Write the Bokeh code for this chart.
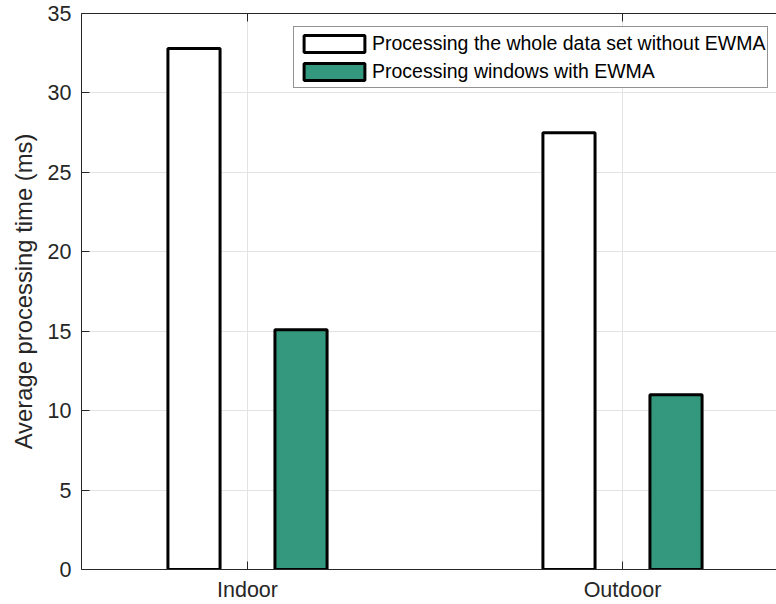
from bokeh.plotting import figure
from bokeh.models import (Range1d, LinearAxis, FixedTicker, ColumnDataSource,
                          Legend, LegendItem, Grid)
from bokeh.embed import file_html
from bokeh.resources import INLINE

# ---- data ----
categories = ["Indoor", "Outdoor"]
series_names = ["Processing the whole data set without EWMA",
                "Processing windows with EWMA"]
whole_dataset = [32.8, 27.5]
windows_ewma = [15.1, 11.0]
y_ticks = [0, 5, 10, 15, 20, 25, 30, 35]

# ---- styling ----
FONT = "Liberation Sans"
AX = "#262626"
GREEN = "#34987e"
positions = [i + 1 for i in range(len(categories))]
offset = 0.1427
bar_w = 0.139

p = figure(width=776, height=604, output_backend="svg", toolbar_location=None,
           x_range=Range1d(0.5573, 2.4107), y_range=Range1d(0, 35),
           min_border_left=81, min_border_right=0, min_border_top=13,
           min_border_bottom=33, x_axis_location=None, y_axis_location=None)
p.outline_line_color = None
p.background_fill_color = "white"
p.border_fill_color = "white"
for g in p.grid:
    g.visible = False

src = ColumnDataSource(dict(
    xw=[x - offset for x in positions],
    xe=[x + offset for x in positions],
    whole=whole_dataset, win=windows_ewma))

# axes
xaxis = LinearAxis(ticker=FixedTicker(ticks=positions),
                   major_label_overrides={pos: c for pos, c in zip(positions, categories)})
xaxis.axis_line_color = AX
xaxis.major_tick_line_color = AX
xaxis.major_tick_in = 8
xaxis.major_tick_out = 0
xaxis.minor_tick_line_color = None
xaxis.major_label_standoff = 8
xaxis.major_label_text_font = FONT
xaxis.major_label_text_font_size = "21.5px"
xaxis.major_label_text_color = AX
p.add_layout(xaxis, "below")

top_axis = LinearAxis(ticker=FixedTicker(ticks=positions))
top_axis.axis_line_color = AX
top_axis.major_tick_line_color = AX
top_axis.major_tick_in = 8
top_axis.major_tick_out = 0
top_axis.minor_tick_line_color = None
top_axis.major_label_text_font_size = "0px"
top_axis.major_label_standoff = 0
top_axis.major_label_overrides = {pos: "" for pos in positions}
p.add_layout(top_axis, "above")

yaxis = LinearAxis(ticker=FixedTicker(ticks=y_ticks),
                   axis_label="Average processing time (ms)")
yaxis.axis_line_color = AX
yaxis.major_tick_line_color = AX
yaxis.major_tick_in = 8
yaxis.major_tick_out = 0
yaxis.minor_tick_line_color = None
yaxis.major_label_standoff = 10
yaxis.major_label_text_font = FONT
yaxis.major_label_text_font_size = "21.5px"
yaxis.major_label_text_color = AX
yaxis.axis_label_text_font = FONT
yaxis.axis_label_text_font_size = "23.8px"
yaxis.axis_label_text_font_style = "normal"
yaxis.axis_label_text_color = AX
yaxis.axis_label_standoff = 8
p.add_layout(yaxis, "left")

p.add_layout(Grid(dimension=0, ticker=xaxis.ticker, grid_line_color="#e3e3e3"))
p.add_layout(Grid(dimension=1, ticker=yaxis.ticker, grid_line_color="#e3e3e3"))

r1 = p.vbar(x="xw", top="whole", width=bar_w, source=src,
            fill_color="white", line_color="black", line_width=3)
r2 = p.vbar(x="xe", top="win", width=bar_w, source=src,
            fill_color=GREEN, line_color="black", line_width=3)

legend = Legend(items=[LegendItem(label=series_names[0], renderers=[r1]),
                       LegendItem(label=series_names[1], renderers=[r2])],
                location=(212, 481))
legend.label_text_font = FONT
legend.label_text_font_size = "19.5px"
legend.label_text_color = "black"
legend.glyph_width = 76
legend.glyph_height = 21
legend.label_height = 28
legend.label_standoff = 0
legend.padding = 2
legend.spacing = 0
legend.margin = 0
legend.border_line_color = AX
legend.border_line_width = 1
legend.background_fill_color = "white"
legend.background_fill_alpha = 1
p.add_layout(legend)

open("out.html", "w").write(file_html(p, INLINE))
